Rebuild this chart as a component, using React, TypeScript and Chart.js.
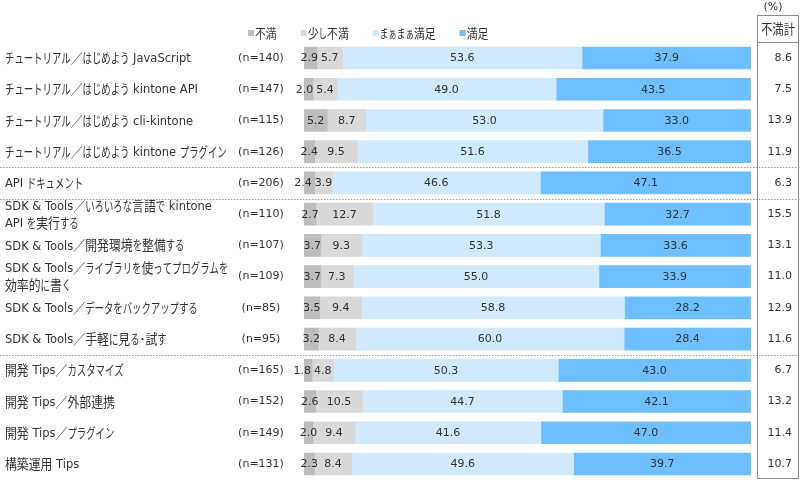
import React, { useEffect, useRef } from "react";
import { Chart, registerables } from "chart.js";

Chart.register(...registerables);

const categories: string[][] = [
  ["チュートリアル／はじめよう JavaScript"],
  ["チュートリアル／はじめよう kintone API"],
  ["チュートリアル／はじめよう cli-kintone"],
  ["チュートリアル／はじめよう kintone プラグイン"],
  ["API ドキュメント"],
  ["SDK & Tools／いろいろな言語で kintone", "API を実行する"],
  ["SDK & Tools／開発環境を整備する"],
  ["SDK & Tools／ライブラリを使ってプログラムを", "効率的に書く"],
  ["SDK & Tools／データをバックアップする"],
  ["SDK & Tools／手軽に見る･試す"],
  ["開発 Tips／カスタマイズ"],
  ["開発 Tips／外部連携"],
  ["開発 Tips／プラグイン"],
  ["構築運用 Tips"],
];
const sampleSizes = [140, 147, 115, 126, 206, 110, 107, 109, 85, 95, 165, 152, 149, 131];
const fuman = [2.9, 2.0, 5.2, 2.4, 2.4, 2.7, 3.7, 3.7, 3.5, 3.2, 1.8, 2.6, 2.0, 2.3];
const sukoshiFuman = [5.7, 5.4, 8.7, 9.5, 3.9, 12.7, 9.3, 7.3, 9.4, 8.4, 4.8, 10.5, 9.4, 8.4];
const maamaa = [53.6, 49.0, 53.0, 51.6, 46.6, 51.8, 53.3, 55.0, 58.8, 60.0, 50.3, 44.7, 41.6, 49.6];
const manzoku = [37.9, 43.5, 33.0, 36.5, 47.1, 32.7, 33.6, 33.9, 28.2, 28.4, 43.0, 42.1, 47.0, 39.7];
const fumanTotal = [8.6, 7.5, 13.9, 11.9, 6.3, 15.5, 13.1, 11.0, 12.9, 11.6, 6.7, 13.2, 11.4, 10.7];
const seriesNames = ["不満", "少し不満", "まぁまぁ満足", "満足"];
const separatorsAfter = [3, 4, 9];

const NUM_FONT = "11px 'DejaVu Sans', sans-serif";
const TEXT = "#333333";

function isKana(ch: string) {
  const c = ch.charCodeAt(0);
  return c >= 0x3040 && c <= 0x30ff;
}
function isCJK(ch: string) {
  const c = ch.charCodeAt(0);
  return (c >= 0x3000 && c <= 0x9fff) || (c >= 0xff00 && c <= 0xffef);
}

// draws mixed Japanese / Latin text on a shared alphabetic baseline; kana condensed
function drawRich(ctx: CanvasRenderingContext2D, text: string, x: number, yMid: number, size: number, measureOnly = false) {
  const runs: { t: string; k: number }[] = [];
  for (const ch of text) {
    const k = isKana(ch) ? 2 : isCJK(ch) ? 1 : 0;
    if (runs.length && runs[runs.length - 1].k === k) runs[runs.length - 1].t += ch;
    else runs.push({ t: ch, k });
  }
  const base = yMid + size * 0.36;
  ctx.save();
  ctx.textBaseline = "alphabetic";
  ctx.textAlign = "left";
  let cx = x;
  for (const r of runs) {
    if (r.k === 0) {
      ctx.font = `${size}px 'DejaVu Sans', sans-serif`;
      const w = ctx.measureText(r.t).width;
      if (!measureOnly) ctx.fillText(r.t, cx, base);
      cx += w;
    } else {
      const cs = size * 1.2;
      ctx.font = `${cs}px 'Noto Sans CJK JP', sans-serif`;
      const sx = r.k === 2 ? 0.68 : 0.86;
      const w = ctx.measureText(r.t).width * sx;
      if (!measureOnly) {
        ctx.save();
        ctx.translate(cx, base + size * 0.08);
        ctx.scale(sx, 1);
        ctx.fillText(r.t, 0, 0);
        ctx.restore();
      }
      cx += w;
    }
  }
  ctx.restore();
  return cx - x;
}

const overlay = {
  id: "overlay",
  afterDatasetsDraw(chart: any) {
    const { ctx, scales } = chart;
    const y = scales.y;
    const W = chart.width;
    ctx.save();
    ctx.fillStyle = TEXT;
    ctx.textBaseline = "middle";
    // data labels
    ctx.font = NUM_FONT;
    ctx.textAlign = "center";
    const metas = chart.data.datasets.map((_: any, di: number) => chart.getDatasetMeta(di));
    chart.data.datasets.forEach((ds: any, di: number) => {
      metas[di].data.forEach((el: any, i: number) => {
        const p = el.getProps(["x", "base", "y"], true);
        let cx = (p.x + p.base) / 2;
        const txt = Number(ds.data[i]).toFixed(1);
        if (di === 0) {
          const n = metas[1].data[i].getProps(["x", "base"], true);
          const nTxt = Number(chart.data.datasets[1].data[i]).toFixed(1);
          const ncx = (n.x + n.base) / 2;
          const need = ctx.measureText(txt).width / 2 + ctx.measureText(nTxt).width / 2 + 3;
          if (ncx - cx < need) cx = ncx - need;
        }
        ctx.fillText(txt, cx, p.y + 0.5);
      });
    });
    // category labels, n and totals
    categories.forEach((lines, i) => {
      const cy = y.getPixelForValue(i);
      const lh = 17;
      lines.forEach((ln, k) => {
        drawRich(ctx, ln, 5, cy + (k - (lines.length - 1) / 2) * lh, 11.5);
      });
      ctx.font = NUM_FONT;
      ctx.textAlign = "center";
      ctx.fillText(`(n=${sampleSizes[i]})`, 261, cy);
      ctx.textAlign = "right";
      ctx.fillText(fumanTotal[i].toFixed(1), 792, cy);
    });
    // separators
    ctx.strokeStyle = "#9a9a9a";
    ctx.lineWidth = 1;
    ctx.setLineDash([1.5, 1.5]);
    separatorsAfter.forEach((i) => {
      const sy = Math.round((y.getPixelForValue(i) + y.getPixelForValue(i + 1)) / 2) + 0.5;
      ctx.beginPath();
      ctx.moveTo(0, sy);
      ctx.lineTo(W, sy);
      ctx.stroke();
    });
    ctx.setLineDash([]);
    // right box
    ctx.strokeStyle = "#8c8c8c";
    ctx.strokeRect(757.5, 15.5, 41, 463);
    ctx.beginPath();
    ctx.moveTo(757.5, 42.5);
    ctx.lineTo(798.5, 42.5);
    ctx.stroke();
    ctx.fillStyle = TEXT;
    const hw = drawRich(ctx, "不満計", 0, 0, 11, true);
    drawRich(ctx, "不満計", 778 - hw / 2, 29, 11);
    ctx.font = NUM_FONT;
    ctx.textAlign = "center";
    ctx.fillText("(%)", 773, 7);
    // legend
    let lx = 248;
    chart.data.datasets.forEach((ds: any) => {
      ctx.fillStyle = ds.backgroundColor;
      ctx.fillRect(lx, 30, 6, 6);
      ctx.fillStyle = TEXT;
      const w = drawRich(ctx, ds.label, lx + 7, 33, 10.5);
      lx += 7 + w + 24;
    });
    ctx.restore();
  },
};

export default function App() {
  const ref = useRef<HTMLCanvasElement | null>(null);
  useEffect(() => {
    if (!ref.current) return;
    const colors = ["#bdbdbd", "#d9d9d9", "#d0e9fd", "#6dbfff"];
    const values = [fuman, sukoshiFuman, maamaa, manzoku];
    const chart = new Chart(ref.current, {
      type: "bar",
      data: {
        labels: categories.map((c) => c.join(" ")),
        datasets: values.map((v, i) => ({
          label: seriesNames[i],
          data: v,
          backgroundColor: colors[i],
          borderWidth: 0,
          barThickness: 22,
        })),
      },
      options: {
        indexAxis: "y",
        animation: false,
        responsive: false,
        maintainAspectRatio: false,
        layout: { padding: { left: 304, right: 49, top: 42.4, bottom: 2.4 } },
        plugins: { legend: { display: false }, tooltip: { enabled: false } },
        scales: {
          x: { stacked: true, min: 0, max: 100, display: false },
          y: { stacked: true, display: false },
        },
      },
      plugins: [overlay],
    });
    return () => chart.destroy();
  }, []);
  return (
    <div style={{ position: "fixed", left: 0, top: 0, width: 800, height: 482, background: "#fff" }}>
      <canvas ref={ref} width={800} height={482} style={{ width: 800, height: 482 }} />
    </div>
  );
}
